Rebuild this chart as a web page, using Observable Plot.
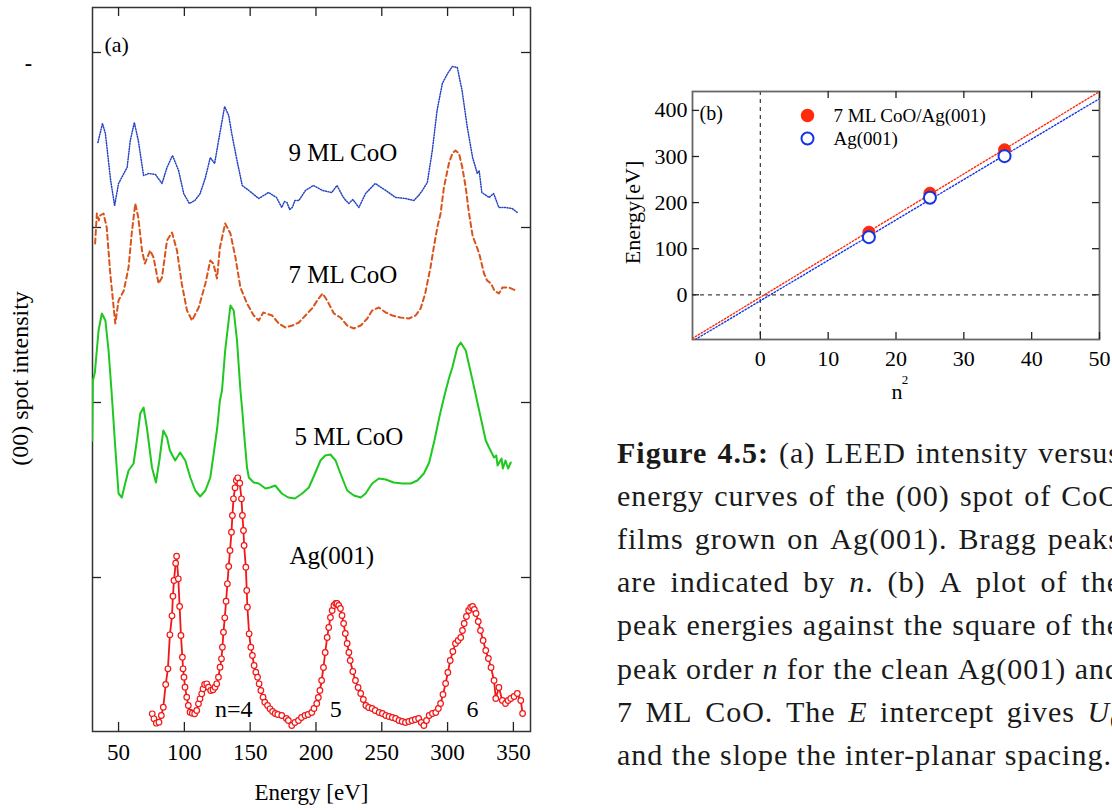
<!DOCTYPE html>
<html>
<head>
<meta charset="utf-8">
<script src="https://cdn.jsdelivr.net/npm/d3@7"></script>
<script src="https://cdn.jsdelivr.net/npm/@observablehq/plot@0.6"></script>
<style>
  html, body { margin: 0; padding: 0; background: #fff; }
  #fig { position: relative; width: 1112px; height: 810px; overflow: hidden; background: #fff; }
  #panelA { position: absolute; left: 0; top: 0; }
  #panelB { position: absolute; left: 600px; top: 60px; }
  #caption { position: absolute; left: 600px; top: 420px; overflow: hidden; }
</style>
</head>
<body>
<div id="fig">
  <div id="panelA"></div>
  <div id="panelB"></div>
  <svg id="caption" width="512" height="390"></svg>
</div>
<script>
// ---------- (a) LEED I(V) curves: [energy eV, (00) spot intensity, arb. units, curves stacked] ----------
const energyTicks = [50, 100, 150, 200, 250, 300, 350];
const intensityTicks = [175, 350, 525, 700];

const coo9ML = [[34.3,610],[37.8,629],[40,619],[44,572],[47,547],[50,569],[54,579],[56.5,585],[58.9,612],[62,630],[65,612],[69,577],[73,579],[78,578],[83,569],[86.8,585],[91,597],[95.6,582],[99.5,559],[103.8,549],[108,552],[112,559],[116,575],[119.7,595],[123,589],[126,612],[130.6,646],[133.7,637],[136,619],[140,592],[144,567],[149,562],[156.5,554],[164,560],[170,555],[172,550],[174,545],[176,551],[178,550],[180,543],[182,545],[184,552],[187,552],[192,562],[198,567],[205,562],[212,560],[216,567],[220,557],[222,553],[225,549],[228,553],[232.6,545],[237.7,559],[245,569],[253,562],[260.5,555],[268,554],[274.4,552],[278,557],[280.8,562],[284.6,570],[288.4,602],[292,642],[296,669],[300,679],[303.6,686],[307.4,685],[311,662],[315,625],[319,595],[322.6,579],[324,582],[326,560],[331.5,555],[335,559],[337,552],[339,545],[344,545],[349,544],[353,540]];

const coo7ML = [[32.2,509],[33.5,539],[35,532],[36,537],[38.6,539],[41,525],[43.7,479],[47.5,429],[50,452],[54,462],[57.6,485],[60,519],[62.7,549],[65,535],[67.8,502],[70,489],[74,502],[76.6,495],[80.4,469],[83,475],[86.8,512],[90.6,520],[94.4,502],[98,469],[102,442],[105.8,432],[110.9,445],[116,469],[119.7,492],[122,489],[124.8,474],[127,505],[131,529],[135,519],[138.8,495],[142.6,465],[147.6,449],[152.7,437],[156.5,432],[160,440],[166.7,437],[171.7,429],[176.8,425],[182,427],[187,430],[192,437],[197,444],[202,454],[205,459],[208.5,452],[213.6,439],[218.6,435],[223.7,427],[228.8,424],[234,427],[239,434],[242.7,442],[247.8,445],[253,440],[258,437],[264,435],[270.6,434],[275.7,437],[279.5,444],[283,459],[287,485],[290,509],[292.5,527],[294.7,539],[297.2,565],[301,589],[303.6,599],[306,602],[308.7,599],[311.2,585],[313.8,565],[316.3,539],[319,517],[324,499],[327.7,479],[330,472],[333,469],[335.5,462],[339,459],[341.6,465],[346.7,465],[351.8,462]];

const coo5ML = [[30,312],[30.5,372],[32,380],[34.8,422],[37.3,439],[40,432],[42.4,402],[45,355],[47.5,305],[50,259],[52.5,255],[55,269],[57.6,282],[61.4,289],[63.9,312],[66.5,339],[69,345],[71.5,325],[75.4,285],[78.4,270],[81,292],[84,322],[86.8,315],[89,302],[93,292],[96.8,300],[100.7,292],[104.5,275],[108.3,262],[112,256],[116,262],[119.7,275],[122.3,299],[125,325],[127,352],[128.6,362],[131,402],[135,447],[137.5,442],[140,412],[142.6,362],[144,342],[145.5,317],[147.6,285],[149,275],[152.7,270],[156.5,269],[161.6,264],[165,265],[169,267],[174,259],[179,255],[184,254],[189.5,259],[194.6,265],[199.6,280],[203.4,292],[207,297],[211,298],[214.9,292],[218.6,279],[223.7,262],[228.8,257],[234,255],[237.7,259],[242.7,269],[247.8,274],[253,273],[259,270],[265.6,269],[272,269],[277,272],[282,279],[286,290],[290,312],[294,337],[298,359],[301,374],[303.6,385],[307.4,405],[310,410],[313.8,402],[319,372],[324,342],[329,312],[331.5,305],[335.3,295],[337,297],[338,287],[341,294],[342,284],[344,292],[346,284],[348,290]];

const ag001 = [[75.6,38.7],[76.9,33.7],[78.7,29.3],[80.7,30.3],[82.5,37],[84,45.3],[85.8,68],[87.5,83.7],[89,117.7],[90.6,136.7],[91.3,156.3],[92.1,172],[93.4,189.3],[94.1,196.3],[95.4,173.7],[96.4,146],[97.4,117],[98.5,95.3],[99,83.7],[99.7,75.3],[100.5,65.3],[101.8,55.3],[103,47],[104.3,40.3],[106,39.3],[107.8,38.7],[109.4,42],[110.7,48.7],[111.9,53.7],[113.2,58.7],[114.2,63.7],[115.4,68],[117,68.7],[118.3,65.3],[120,62],[121.8,62.7],[123.3,65.3],[124.6,68.7],[125.9,75.3],[127.1,85.3],[128.2,93.7],[128.9,105.3],[129.7,120.3],[130.7,134.7],[131.7,151.3],[132.7,168.7],[133.7,186],[134.7,202],[135.8,220.3],[136.5,237],[137.3,253.7],[138.5,264.7],[139.5,272],[140.6,274.7],[142.1,269.3],[143.4,253.7],[144.1,237],[144.9,222],[145.4,207],[146.7,185.3],[147.4,162],[147.9,145.3],[149.2,118.7],[150.5,105.3],[151.7,97],[153,87],[154.3,80.3],[155.6,75.3],[156.8,68.7],[158.1,62],[159.8,55.3],[161.1,50.3],[163.2,47],[165.1,43.7],[167,41],[169,39],[171,38],[174,37],[177.5,34],[179,32],[181.6,27],[184,30],[186.7,32],[189,35],[191.7,37],[194,38],[196.8,40],[198.5,44],[200.6,49],[201.8,55],[203,62],[204.3,72],[205.7,85],[207,100],[208.5,115],[209.7,125],[211,135],[212.3,142],[213.6,147],[215,149],[216,149],[217.3,147],[218.6,144],[219.8,137],[221,129],[222.3,119],[223.7,109],[225,100],[226,92],[228,81],[230,72],[232,65],[234,59],[236,53],[237.9,47],[240,45],[242.7,44],[245,42],[248,40],[250.5,39],[253,37],[255.5,36],[258,35],[260.5,34],[263,32],[265.5,31],[268,30],[270.5,31],[273,32],[275.5,33],[278,34],[280,30],[282,27],[284,32],[286,37],[288.5,39],[291,40],[293,44],[294.7,49],[296.5,58],[298.5,69],[300.2,80],[302,92],[304,101],[306,109],[308,112],[310,115],[311.3,122],[312.6,129],[314.3,136],[316,142],[317.5,145],[319,146],[320.3,143],[321.6,139],[323.3,131],[325,122],[327,112],[329,102],[331,94],[333,85],[335.3,72],[336.6,54],[339,65],[341.6,52],[344,49],[346,52],[348,54],[350.5,56],[353,59],[355.6,52],[357,39]];

const braggOrders = [4, 5, 6];

// ---------- (b) Bragg peak energies against n^2 ----------
const nSquared = [16, 25, 36];
const cooPeakEnergy = [135.8, 220.5, 314.6];
const agPeakEnergy = [125, 210.5, 300.8];
const nSqTicks = [0, 10, 20, 30, 40, 50];
const peakEnergyTicks = [0, 100, 200, 300, 400];
const nSqDomain = [-10, 50];
const peakEnergyDomain = [-97, 441];

// ---------- helpers ----------
const serif = "'Liberation Serif', 'Times New Roman', Times, serif";
const ex = d => d[0], iy = d => d[1];
const mid = {lineAnchor: "middle"};

function leastSquares(xs, ys) {
  const mx = d3.mean(xs), my = d3.mean(ys);
  const sxy = d3.sum(xs, (x, i) => (x - mx) * (ys[i] - my));
  const sxx = d3.sum(xs, x => (x - mx) ** 2);
  const slope = sxy / sxx;
  return {slope, intercept: my - slope * mx};
}

// ---------- panel (a) ----------
const A = {width: 560, height: 810, top: 7, right: 30, bottom: 79, left: 92};
const aInnerW = A.width - A.left - A.right;
const aInnerH = A.height - A.top - A.bottom;
const aTick = 9;

const agFit = leastSquares(nSquared, agPeakEnergy);
// locate each Bragg maximum on the clean-surface curve near the kinematic estimate
const braggPeaks = braggOrders.map(n => {
  const guess = agFit.intercept + agFit.slope * n * n;
  const near = ag001.filter(d => Math.abs(d[0] - guess) < 20);
  const top = d3.greatest(near, iy);
  return {n, energy: top[0], label: n === braggOrders[0] ? `n=${n}` : String(n)};
});

const panelA = Plot.plot({
  width: A.width,
  height: A.height,
  marginTop: A.top,
  marginRight: A.right,
  marginBottom: A.bottom,
  marginLeft: A.left,
  x: {domain: [30.2, 363]},
  y: {domain: [21, 745], axis: null},
  style: {fontFamily: serif, fontSize: "23px", color: "#000", background: "#fff", overflow: "visible"},
  marks: [
    Plot.frame({stroke: "#333", strokeWidth: 1.5}),
    // inward ticks on all four sides
    Plot.tickX(energyTicks, {x: d => d, insetTop: aInnerH - aTick, stroke: "#222", strokeWidth: 1.3}),
    Plot.tickX(energyTicks, {x: d => d, insetBottom: aInnerH - aTick, stroke: "#222", strokeWidth: 1.3}),
    Plot.tickY(intensityTicks, {y: d => d, insetRight: aInnerW - aTick, stroke: "#222", strokeWidth: 1.3}),
    Plot.tickY(intensityTicks, {y: d => d, insetLeft: aInnerW - aTick, stroke: "#222", strokeWidth: 1.3}),
    Plot.axisX({ticks: energyTicks, tickSize: 0, tickPadding: 12, label: null, fontSize: 23}),
    Plot.text(["Energy [eV]"], {text: d => d, frameAnchor: "bottom", dy: 61, ...mid, fontSize: 23}),
    Plot.text(["(00) spot intensity"], {text: d => d, frameAnchor: "left", dx: -72, dy: 9, rotate: -90, textAnchor: "middle", ...mid, fontSize: 24}),
    Plot.text(["-"], {text: d => d, frameAnchor: "top-left", dx: -64, dy: 55, textAnchor: "middle", ...mid, fontSize: 22, fontWeight: "bold"}),
    Plot.text(["(a)"], {text: d => d, frameAnchor: "top-left", dx: 12, dy: 37, textAnchor: "start", ...mid, fontSize: 22}),

    // curves
    Plot.line(coo9ML, {x: ex, y: iy, stroke: "#2343c2", strokeWidth: 1.5, strokeDasharray: "1 1.6", clip: true}),
    Plot.line(coo7ML, {x: ex, y: iy, stroke: "#d9541c", strokeWidth: 2, strokeDasharray: "5 3.5", clip: true}),
    Plot.line(coo5ML, {x: ex, y: iy, stroke: "#1ec81e", strokeWidth: 2, clip: true}),
    Plot.line(ag001, {x: ex, y: iy, stroke: "#f21616", strokeWidth: 1.8}),
    Plot.dot(ag001, {x: ex, y: iy, r: 2.8, stroke: "#f21616", strokeWidth: 1.2, fill: "#fff"}),

    // curve labels
    Plot.text(["9 ML CoO"], {text: d => d, x: 220.5, y: 600, fontSize: 25}),
    Plot.text(["7 ML CoO"], {text: d => d, x: 220.5, y: 478, fontSize: 25}),
    Plot.text(["5 ML CoO"], {text: d => d, x: 225, y: 316, fontSize: 25}),
    Plot.text(["Ag(001)"], {text: d => d, x: 212, y: 197, fontSize: 25}),

    // Bragg orders
    Plot.text(braggPeaks.slice(0, 1), {x: "energy", text: "label", frameAnchor: "bottom", dy: -22, dx: -4, ...mid, fontSize: 24}),
    Plot.text(braggPeaks.slice(1), {x: "energy", text: "label", frameAnchor: "bottom", dy: -22, ...mid, fontSize: 24})
  ]
});
document.getElementById("panelA").append(panelA);

// ---------- panel (b) ----------
const B = {width: 512, height: 350, top: 31, right: 13, bottom: 71, left: 92};
const bInnerW = B.width - B.left - B.right;
const bInnerH = B.height - B.top - B.bottom;
const bTick = 7;

const cooFit = leastSquares(nSquared, cooPeakEnergy);
const fitLine = f => nSqDomain.map(x => ({x, y: f.intercept + f.slope * x}));
const cooPoints = nSquared.map((x, i) => ({x, y: cooPeakEnergy[i]}));
const agPoints = nSquared.map((x, i) => ({x, y: agPeakEnergy[i]}));

const cooColor = "#ff2a0c", agColor = "#1533e6";

const panelB = Plot.plot({
  width: B.width,
  height: B.height,
  marginTop: B.top,
  marginRight: B.right,
  marginBottom: B.bottom,
  marginLeft: B.left,
  x: {domain: nSqDomain},
  y: {domain: peakEnergyDomain},
  style: {fontFamily: serif, fontSize: "22px", color: "#000", background: "#fff", overflow: "visible"},
  marks: [
    Plot.ruleX([0], {stroke: "#444", strokeWidth: 1.3, strokeDasharray: "4 4"}),
    Plot.ruleY([0], {stroke: "#444", strokeWidth: 1.3, strokeDasharray: "4 4"}),
    Plot.frame({stroke: "#666", strokeWidth: 1.8}),
    Plot.tickX(nSqTicks, {x: d => d, insetTop: bInnerH - bTick, stroke: "#222", strokeWidth: 1.3}),
    Plot.tickX(nSqTicks.slice(1), {x: d => d, insetBottom: bInnerH - bTick, stroke: "#222", strokeWidth: 1.3}),
    Plot.tickY(peakEnergyTicks, {y: d => d, insetRight: bInnerW - bTick, stroke: "#222", strokeWidth: 1.3}),
    Plot.tickY(peakEnergyTicks, {y: d => d, insetLeft: bInnerW - bTick, stroke: "#222", strokeWidth: 1.3}),
    Plot.axisX({ticks: nSqTicks, tickSize: 0, tickPadding: 11, label: null, fontSize: 22}),
    Plot.axisY({ticks: peakEnergyTicks, tickSize: 0, tickPadding: 5, label: null, fontSize: 22}),
    Plot.text(["Energy[eV]"], {text: d => d, frameAnchor: "left", dx: -60, dy: -3, rotate: -90, textAnchor: "middle", ...mid, fontSize: 22}),
    Plot.text(["n"], {text: d => d, frameAnchor: "bottom", dx: 1, dy: 52, textAnchor: "middle", ...mid, fontSize: 22}),
    Plot.text(["2"], {text: d => d, frameAnchor: "bottom", dx: 9, dy: 40, textAnchor: "middle", ...mid, fontSize: 13}),
    Plot.text(["(b)"], {text: d => d, frameAnchor: "top-left", dx: 7, dy: 22, textAnchor: "start", ...mid, fontSize: 20}),

    // linear fits E = U + c n^2
    Plot.line(fitLine(cooFit), {x: "x", y: "y", stroke: cooColor, strokeWidth: 1.4, strokeDasharray: "1.4 2", clip: true}),
    Plot.line(fitLine(agFit), {x: "x", y: "y", stroke: agColor, strokeWidth: 1.4, strokeDasharray: "1.4 2", clip: true}),
    Plot.dot(cooPoints, {x: "x", y: "y", r: 6, fill: cooColor, stroke: cooColor, strokeWidth: 1}),
    Plot.dot(agPoints, {x: "x", y: "y", r: 6, fill: "#fff", stroke: agColor, strokeWidth: 2}),

    // legend
    Plot.dot(["7 ML CoO/Ag(001)"], {frameAnchor: "top-left", dx: 115, dy: 24, r: 6, fill: cooColor, stroke: cooColor}),
    Plot.dot(["Ag(001)"], {frameAnchor: "top-left", dx: 115, dy: 47, r: 6, fill: "#fff", stroke: agColor, strokeWidth: 2}),
    Plot.text(["7 ML CoO/Ag(001)"], {text: d => d, frameAnchor: "top-left", dx: 141, dy: 24, textAnchor: "start", ...mid, fontSize: 19}),
    Plot.text(["Ag(001)"], {text: d => d, frameAnchor: "top-left", dx: 141, dy: 47, textAnchor: "start", ...mid, fontSize: 19})
  ]
});
document.getElementById("panelB").append(panelB);

// ---------- caption (justified lines) ----------
const captionLines = [
  "**Figure** **4.5:** (a) LEED intensity versus",
  "energy curves of the (00) spot of CoO",
  "films grown on Ag(001). Bragg peaks",
  "are indicated by _n_. (b) A plot of the",
  "peak energies against the square of the",
  "peak order _n_ for the clean Ag(001) and",
  "7 ML CoO. The _E_ intercept gives _U_~0~",
  "and the slope the inter-planar spacing."
];
const cap = {x: 17, firstBaseline: 43, lineStep: 43.1, width: 504, fontSize: 30, letterSpacing: 1.0};

const capSvg = d3.select("#caption")
  .style("font-family", serif)
  .style("font-size", cap.fontSize + "px")
  .style("letter-spacing", cap.letterSpacing + "px")
  .attr("fill", "#1a1a1a");

captionLines.forEach((line, li) => {
  const y = cap.firstBaseline + li * cap.lineStep;
  const words = line.split(" ");
  const nodes = words.map(word => {
    const t = capSvg.append("text").attr("y", y).attr("x", 0);
    for (const m of word.matchAll(/\*\*([^*]+)\*\*|_([^_]+)_|~([^~]+)~|([^*_~]+)/g)) {
      if (m[1]) t.append("tspan").attr("font-weight", "bold").text(m[1]);
      else if (m[2]) t.append("tspan").attr("font-style", "italic").text(m[2]);
      else if (m[3]) t.append("tspan").attr("font-size", cap.fontSize * 0.65).attr("dy", 6).text(m[3]);
      else t.append("tspan").text(m[4]);
    }
    return t;
  });
  const widths = nodes.map(t => t.node().getComputedTextLength());
  const isLast = li === captionLines.length - 1;
  const gap = isLast
    ? cap.fontSize * 0.25 + cap.letterSpacing
    : (cap.width - d3.sum(widths)) / (words.length - 1);
  let x = cap.x;
  nodes.forEach((t, i) => { t.attr("x", x); x += widths[i] + gap; });
});
</script>
</body>
</html>
